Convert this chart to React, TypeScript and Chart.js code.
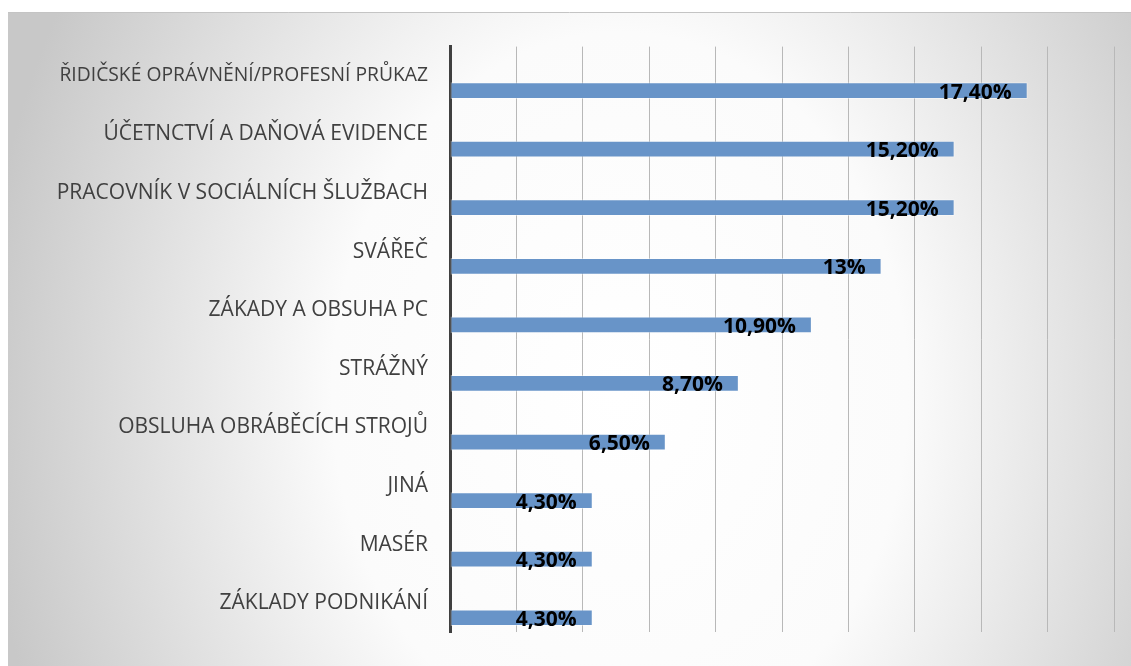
import React, { useEffect, useRef } from "react";
import { Chart, registerables } from "chart.js";

Chart.register(...registerables);

const categories = [
  "ŘIDIČSKÉ OPRÁVNĚNÍ/PROFESNÍ PRŮKAZ",
  "ÚČETNCTVÍ A DAŇOVÁ EVIDENCE",
  "PRACOVNÍK V SOCIÁLNÍCH ŠLUŽBACH",
  "SVÁŘEČ",
  "ZÁKADY A OBSUHA PC",
  "STRÁŽNÝ",
  "OBSLUHA OBRÁBĚCÍCH STROJŮ",
  "JINÁ",
  "MASÉR",
  "ZÁKLADY PODNIKÁNÍ",
];

const values = [17.4, 15.2, 15.2, 13, 10.9, 8.7, 6.5, 4.3, 4.3, 4.3];
const spacer = categories.map(() => null);

const axisMin = 0;
const axisMax = 20;
const axisStep = 2;

function fmt(v: number): string {
  if (Number.isInteger(v)) return `${v}%`;
  return v.toFixed(2).replace(".", ",") + "%";
}

const bgPlugin = {
  id: "bgPlugin",
  beforeDraw(chart: any) {
    const { ctx, width, height } = chart;
    ctx.save();
    const cx = 612;
    const cy = 380;
    const rx = 640;
    const ry = 800;
    ctx.translate(cx, cy);
    ctx.scale(1, ry / rx);
    const g = ctx.createRadialGradient(0, 0, 0, 0, 0, rx);
    g.addColorStop(0, "#ffffff");
    g.addColorStop(0.45, "#fbfbfb");
    g.addColorStop(1, "#c8c8c8");
    ctx.fillStyle = g;
    ctx.fillRect(-cx, -cy * (rx / ry), width, height * (rx / ry) + 10);
    ctx.restore();
    ctx.save();
    ctx.strokeStyle = "#c4c4c4";
    ctx.lineWidth = 1;
    ctx.beginPath();
    ctx.moveTo(0, 0.5);
    ctx.lineTo(width, 0.5);
    ctx.stroke();
    ctx.restore();
  },
};

const labelPlugin = {
  id: "labelPlugin",
  afterDatasetsDraw(chart: any) {
    const { ctx } = chart;
    const meta = chart.getDatasetMeta(1);
    ctx.save();
    ctx.font = "bold 21px 'Open Sans'";
    ctx.fillStyle = "#000000";
    ctx.textAlign = "right";
    ctx.textBaseline = "middle";
    meta.data.forEach((el: any, i: number) => {
      ctx.fillText(fmt(values[i]), el.x - 16, el.y + 2);
    });
    ctx.restore();
  },
};

export default function App() {
  const ref = useRef<HTMLCanvasElement | null>(null);
  useEffect(() => {
    if (!ref.current) return;
    const chart = new Chart(ref.current, {
      type: "bar",
      data: {
        labels: categories,
        datasets: [
          { label: "spacer", data: spacer as any, backgroundColor: "transparent" },
          {
            label: "value",
            data: values,
            backgroundColor: "#6894c8",
            borderColor: "rgba(255,255,255,0.4)",
            borderWidth: 1,
            borderSkipped: false,
          },
        ],
      },
      options: {
        indexAxis: "y",
        animation: false,
        responsive: false,
        maintainAspectRatio: false,
        layout: { padding: { left: 0, right: 17, top: 30, bottom: 21 } },
        plugins: { legend: { display: false }, tooltip: { enabled: false } },
        datasets: { bar: { categoryPercentage: 1, barPercentage: 0.57 } },
        scales: {
          x: {
            min: axisMin,
            max: axisMax,
            ticks: { display: false, stepSize: axisStep },
            grid: {
              drawTicks: false,
              color: (c: any) => (c.tick && c.tick.value === 0 ? "transparent" : "#b8b8b8"),
              lineWidth: 1,
            },
            border: { display: false },
            afterFit: (s: any) => {
              s.height = 0;
            },
          },
          y: {
            ticks: {
              color: "#404040",
              font: (c: any) => ({ family: "'Open Sans'", size: c.index === 0 ? 19.3 : 21 }),
              padding: 22,
            },
            grid: { display: true, color: "transparent", drawTicks: false },
            border: { display: true, color: "#404040", width: 3 },
            afterFit: (s: any) => {
              s.width = 442;
            },
          },
        },
      },
      plugins: [bgPlugin, labelPlugin],
    });
    return () => chart.destroy();
  }, []);
  return (
    <div style={{ position: "absolute", left: 8, top: 12, width: 1123, height: 654 }}>
      <canvas ref={ref} width={1123} height={654} style={{ display: "block" }} />
    </div>
  );
}
